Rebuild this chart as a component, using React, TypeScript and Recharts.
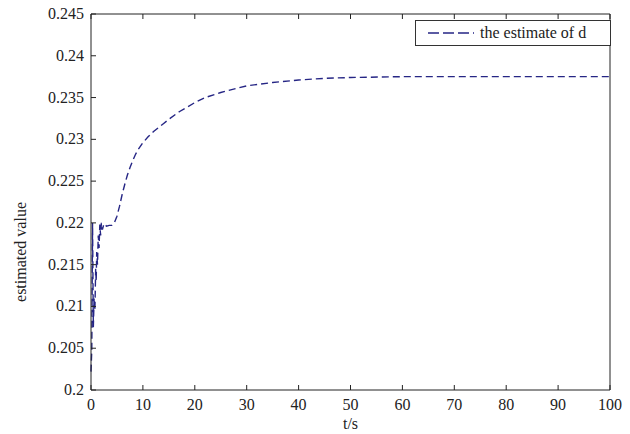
import { LineChart, Line, XAxis, YAxis } from "recharts";

const times = [
  0, 0.15, 0.3, 0.45, 0.6, 0.75, 0.9, 1.0, 1.1, 1.25, 1.4, 1.55, 1.7, 1.85, 2.0, 2.2, 2.5, 3.0, 3.5, 4.0, 4.5, 5.0,
  5.5, 6.0, 6.5, 7.0, 7.5, 8, 8.5, 9, 10, 11, 12, 13, 14, 15, 17, 20, 22, 25, 28, 30, 35, 40, 45, 50, 60, 70, 80, 90,
  100,
];
const estimates = [
  0.2022, 0.2048, 0.22, 0.2075, 0.211, 0.2095, 0.2145, 0.213, 0.2165, 0.215, 0.2185, 0.217, 0.2198, 0.2185, 0.22,
  0.2192, 0.2199, 0.2196, 0.2197, 0.2197, 0.22, 0.2208, 0.222, 0.2234, 0.2246, 0.2257, 0.2266, 0.2274, 0.2281,
  0.2287, 0.2296, 0.2303, 0.2309, 0.2314, 0.2319, 0.2324, 0.2333, 0.2344, 0.235, 0.2356, 0.2361, 0.2364, 0.2368,
  0.2371, 0.2373, 0.2374, 0.2375, 0.2375, 0.2375, 0.2375, 0.2375,
];
const xTicks = [0, 10, 20, 30, 40, 50, 60, 70, 80, 90, 100];
const yTicks = [0.2, 0.205, 0.21, 0.215, 0.22, 0.225, 0.23, 0.235, 0.24, 0.245];
const seriesName = "the estimate of d";

const data = times.map((t, i) => ({ t, v: estimates[i] }));

const FONT = "'Liberation Serif', 'Times New Roman', serif";
const FS = 16;
const LINE_COLOR = "#262685";
const TICK = 5;

function BottomTick({ x, y, payload }: any) {
  return (
    <g>
      <line x1={x} y1={y} x2={x} y2={y - TICK} stroke="#222" />
      <text x={x} y={y + 20} textAnchor="middle" style={{ fontFamily: FONT, fontSize: FS }} fill="#222">
        {payload.value}
      </text>
    </g>
  );
}

function TopTick({ x, y }: any) {
  return <line x1={x} y1={y} x2={x} y2={y + TICK} stroke="#222" />;
}

function LeftTick({ x, y, payload }: any) {
  return (
    <g>
      <line x1={x} y1={y} x2={x + TICK} y2={y} stroke="#222" />
      <text x={x - 7} y={y + 5} textAnchor="end" style={{ fontFamily: FONT, fontSize: FS }} fill="#222">
        {payload.value}
      </text>
    </g>
  );
}

function RightTick({ x, y }: any) {
  return <line x1={x} y1={y} x2={x - TICK} y2={y} stroke="#222" />;
}

function LegendBox() {
  return (
    <div
      style={{
        position: "absolute",
        left: 415,
        top: 20,
        boxSizing: "border-box",
        border: "1px solid #333",
        background: "#fff",
        width: 196,
        height: 26,
        display: "flex",
        alignItems: "center",
        fontFamily: FONT,
        fontSize: FS,
        color: "#222",
        overflow: "hidden",
        whiteSpace: "nowrap",
      }}
    >
      <svg width={52} height={10} style={{ marginLeft: 12, flex: "none" }}>
        <line x1={0} y1={5} x2={46} y2={5} stroke={LINE_COLOR} strokeWidth={1.4} strokeDasharray="11 4" />
      </svg>
      <span>{seriesName}</span>
    </div>
  );
}

export default function App() {
  return (
    <div
      style={{
        position: "absolute",
        left: 0,
        top: 0,
        width: 630,
        height: 434,
        background: "#fff",
        fontFamily: FONT,
      }}
    >
      <LineChart width={630} height={434} data={data} margin={{ top: 13, right: 19, bottom: 24, left: 31 }}>
        <XAxis
          xAxisId="b"
          dataKey="t"
          type="number"
          domain={[0, 100]}
          ticks={xTicks}
          height={20}
          tickSize={0}
          tickMargin={0}
          tick={<BottomTick />}
          axisLine={{ stroke: "#222" }}
          interval={0}
          label={{ value: "t/s", position: "bottom", offset: 8, fontFamily: FONT, fontSize: FS, fill: "#222" }}
        />
        <XAxis
          xAxisId="t"
          orientation="top"
          dataKey="t"
          type="number"
          domain={[0, 100]}
          ticks={xTicks}
          height={1}
          tickSize={0}
          tickMargin={0}
          tick={<TopTick />}
          axisLine={{ stroke: "#222" }}
          interval={0}
        />
        <YAxis
          yAxisId="l"
          type="number"
          domain={[0.2, 0.245]}
          ticks={yTicks}
          width={60}
          tickSize={0}
          tickMargin={0}
          tick={<LeftTick />}
          axisLine={{ stroke: "#222" }}
          interval={0}
          label={{
            value: "estimated value",
            angle: -90,
            position: "left",
            offset: 11,
            fontFamily: FONT,
            fontSize: FS,
            fill: "#222",
          }}
        />
        <YAxis
          yAxisId="r"
          orientation="right"
          type="number"
          domain={[0.2, 0.245]}
          ticks={yTicks}
          width={1}
          tickSize={0}
          tickMargin={0}
          tick={<RightTick />}
          axisLine={{ stroke: "#222" }}
          interval={0}
        />
        <Line
          xAxisId="b"
          yAxisId="l"
          type="linear"
          dataKey="v"
          name={seriesName}
          stroke={LINE_COLOR}
          strokeWidth={1.4}
          strokeDasharray="7 4"
          dot={false}
          isAnimationActive={false}
        />
      </LineChart>
      <LegendBox />
    </div>
  );
}
